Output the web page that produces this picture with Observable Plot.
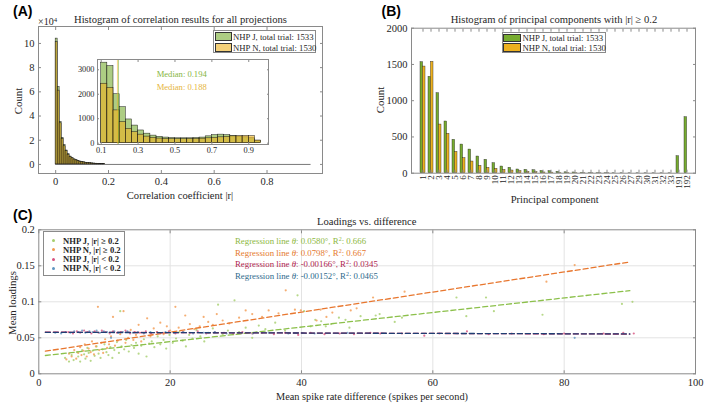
<!DOCTYPE html>
<html>
<head>
<meta charset="utf-8">
<script src="https://cdn.jsdelivr.net/npm/d3@7"></script>
<script src="https://cdn.jsdelivr.net/npm/@observablehq/plot@0.6"></script>
<style>
html,body{margin:0;padding:0;background:#fff;}
#root{position:relative;width:708px;height:406px;overflow:hidden;font-family:"Liberation Serif","Times New Roman",serif;color:#262626;}
#root svg{position:absolute;overflow:visible;}
#root svg text{font-family:"Liberation Serif","Times New Roman",serif !important;}
.t{position:absolute;white-space:nowrap;line-height:1;}
.lg{position:absolute;background:#fff;border:1px solid #8a8a8a;box-sizing:border-box;}
.sw{position:absolute;box-sizing:border-box;border:1px solid #333;}
.dot{position:absolute;width:3px;height:3px;border-radius:50%;}
sup{font-size:0.68em;line-height:0;vertical-align:0.45em;}
</style>
</head>
<body>
<div id="root"></div>
<script>
// ================= DATA =================
// Panel A: fine histogram of |r| (counts in units of 10^4), bins from 0
const mainBinWidth = 0.0075;
const mainJ = [10.4, 6.4, 3.5, 2.2, 1.6, 1.15, 0.85, 0.65, 0.52, 0.42, 0.35, 0.29, 0.24, 0.2, 0.17, 0.14, 0.12, 0.1, 0.085, 0.07, 0.06, 0.05, 0.04, 0.035, 0.03];
const mainN = [10.1, 6.1, 3.4, 2.1, 1.5, 1.1, 0.8, 0.62, 0.5, 0.4, 0.33, 0.27, 0.22, 0.19, 0.16, 0.13, 0.11, 0.09, 0.075, 0.065, 0.055, 0.045, 0.037, 0.03, 0.025];
// Panel A inset: |r| >= 0.1 histogram (raw counts)
const insetStart = 0.1;
const insetBinWidth = 1 / 30;
const insetJ = [3290, 3150, 2000, 1470, 970, 720, 520, 390, 310, 260, 230, 210, 200, 200, 200, 210, 230, 280, 330, 350, 330, 300, 270, 240, 200, 90];
const insetN = [2430, 2260, 1340, 860, 590, 450, 350, 270, 220, 190, 175, 170, 165, 165, 170, 175, 185, 200, 220, 240, 260, 280, 290, 300, 290, 110];
const medianValues = [0.194, 0.188];
const monkeys = ["NHP J", "NHP N"];
const trials = [1533, 1530];

// Panel B: principal components with |r| >= 0.2
const pcLabels = ["1","2","3","4","5","6","7","8","9","10","11","12","13","14","15","16","17","18","19","20","21","22","23","24","25","26","27","29","30","31","32","33","191","192"];
const pcJ = [1531, 1329, 1103, 713, 460, 395, 326, 230, 184, 138, 92, 74, 51, 46, 41, 30, 28, 18, 12, 10, 6, 4, 3, 3, 2, 2, 1, 1, 1, 1, 1, 1, 234, 772];
const pcN = [1471, 1536, 671, 543, 294, 207, 161, 101, 74, 60, 46, 37, 28, 18, 14, 10, 8, 5, 4, 3, 2, 1, 1, 1, 0, 0, 0, 0, 0, 0, 0, 0, 0, 0];

// Panel C: mean loadings vs mean spike-rate difference
const ptsJhigh = [[4.0,.022],[4.6,.017],[5.0,.026],[5.3,.019],[5.8,.030],[6.0,.024],[6.3,.017],[6.6,.033],[6.9,.027],[7.1,.021],[7.4,.036],[7.6,.029],[7.9,.018],[8.2,.032],[8.5,.025],[8.8,.038],[9.1,.028],[9.4,.022],[9.7,.034],[10.0,.041],[10.3,.030],[10.6,.026],[10.9,.037],[11.2,.022],[11.5,.033],[11.9,.044],[12.2,.029],[12.4,.087],[12.6,.038],[13.0,.034],[13.3,.047],[13.7,.031],[14.1,.040],[14.5,.036],[14.8,.043],[15.2,.028],[15.6,.039],[16.0,.048],[16.4,.024],[16.8,.042],[17.2,.045],[17.6,.037],[18.1,.052],[18.5,.041],[19.0,.047],[19.4,.035],[19.9,.054],[20.4,.043],[20.9,.049],[21.4,.058],[21.9,.046],[22.4,.038],[22.9,.054],[23.4,.049],[24.0,.061],[24.6,.052],[25.2,.045],[25.8,.057],[26.5,.063],[27.3,.096],[28.0,.055],[28.8,.060],[29.8,.102],[30.5,.058],[31.5,.064],[32.5,.050],[33.5,.067],[34.5,.062],[36.0,.071],[37.5,.060],[39.4,.109],[40.4,.087],[41.4,.066],[42.1,.075],[43.0,.073],[43.7,.066],[44.5,.069],[45.7,.078],[46.7,.075],[47.3,.064],[49.0,.080],[51.3,.081],[51.9,.083],[54.2,.072],[55.3,.078],[63.6,.106],[65.1,.080],[68.1,.106],[69.3,.087],[76.7,.082],[88.8,.097],[90.4,.100]];
const ptsNhigh = [[4.2,.020],[4.6,.028],[5.0,.024],[5.4,.033],[5.7,.021],[6.0,.029],[6.3,.037],[6.5,.026],[6.8,.032],[7.0,.041],[7.3,.024],[7.6,.035],[7.9,.030],[8.1,.045],[8.4,.027],[8.7,.038],[9.0,.093],[9.2,.033],[9.5,.043],[9.8,.029],[10.1,.048],[10.4,.036],[10.7,.041],[11.0,.052],[11.3,.079],[11.6,.039],[12.0,.046],[12.4,.055],[12.9,.087],[13.2,.043],[13.6,.050],[14.0,.061],[14.4,.047],[14.8,.054],[15.2,.068],[15.6,.045],[16.0,.057],[16.5,.077],[17.0,.052],[17.5,.063],[18.0,.058],[18.5,.071],[19.0,.055],[19.5,.066],[20.0,.060],[20.8,.093],[21.3,.064],[22.0,.058],[22.3,.081],[23.0,.069],[23.7,.062],[24.5,.066],[25.1,.079],[25.8,.072],[26.5,.068],[27.1,.083],[28.0,.074],[29.0,.070],[30.5,.078],[31.5,.088],[32.5,.083],[34.0,.079],[35.0,.088],[36.5,.084],[37.6,.116],[39.0,.089],[39.9,.088],[42.3,.074],[42.9,.089],[43.8,.079],[44.7,.085],[47.5,.088],[48.4,.091],[50.9,.106],[55.7,.114],[77.3,.128],[81.6,.151]];
const ptsJlow = [[4.5,.058],[5.2,.056],[5.8,.059],[6.3,.057],[6.9,.060],[7.4,.058],[8.0,.056],[8.5,.059],[9.1,.057],[9.6,.060],[10.2,.058],[10.8,.056],[11.3,.059],[11.9,.057],[12.5,.058],[13.2,.060],[13.9,.056],[14.6,.058],[15.4,.057],[16.3,.059],[17.1,.056],[18.0,.058],[18.9,.057],[19.8,.059],[20.8,.056],[21.9,.058],[23.0,.057],[24.2,.059],[25.5,.056],[26.8,.058],[28.2,.057],[29.6,.055],[31.0,.058],[32.5,.056],[34.0,.057],[35.8,.055],[37.5,.057],[39.5,.054],[41.4,.057],[43.5,.055],[45.8,.056],[48.0,.055],[50.5,.057],[52.0,.056],[55.3,.056],[58.7,.053],[61.0,.056],[65.2,.059],[68.5,.055],[72.0,.056],[76.9,.055],[80.0,.056],[86.0,.056],[89.0,.057],[90.6,.056]];
const ptsNlow = [[2.5,.057],[3.4,.056],[4.1,.058],[4.8,.057],[5.4,.059],[6.0,.058],[6.6,.060],[7.1,.057],[7.7,.059],[8.2,.058],[8.8,.060],[9.3,.057],[9.9,.059],[10.4,.058],[11.0,.050],[11.5,.059],[12.1,.057],[12.8,.058],[13.5,.059],[14.3,.057],[15.1,.058],[16.0,.056],[17.0,.058],[18.1,.057],[19.3,.058],[20.6,.057],[22.0,.058],[23.5,.056],[25.1,.057],[26.8,.058],[28.6,.056],[30.5,.057],[32.6,.056],[35.0,.057],[38.0,.056],[42.0,.056],[47.0,.057],[81.6,.050]];
const groupLabels = ["NHP J, |r| \u2265 0.2", "NHP N, |r| \u2265 0.2", "NHP J, |r| < 0.2", "NHP N, |r| < 0.2"];
const regAngleDeg = [0.0580, 0.0798, -0.00166, -0.00152];
const regAngleText = ["0.0580", "0.0798", "-0.00166", "-0.00152"];
const regR2 = ["0.666", "0.667", "0.0345", "0.0465"];
const regIntercept = [0.0244, 0.0300, 0.0578, 0.0577];
const regXRange = [1, 90];

// ================= STYLE =================
const GREEN = "#77AC30", YELLOW = "#EDB120", AX = "#8a8a8a", TXT = "#262626";
const ptColors = ["#A5CE6C", "#F29A50", "#D8517E", "#5F95C0"];
const lineColors = ["#8CC04B", "#E8772F", "#C0245B", "#1F3F73"];
const textColors = ["#8DB842", "#E57A2E", "#B01E4F", "#2F6A8C"];
const SERIF = '"Liberation Serif","Times New Roman",serif';
const baseStyle = {fontFamily: SERIF, fontSize: "10.5px", color: TXT, background: "transparent", overflow: "visible"};

const root = document.getElementById("root");
function put(svg, left, top) { svg.style.left = left + "px"; svg.style.top = top + "px"; root.appendChild(svg); }
function text(html, x, y, o = {}) {
  const d = document.createElement("div");
  d.className = "t";
  d.innerHTML = html;
  d.style.left = x + "px"; d.style.top = y + "px";
  d.style.fontSize = (o.size || 10.6) + "px";
  if (o.color) d.style.color = o.color;
  if (o.weight) d.style.fontWeight = o.weight;
  if (o.family) d.style.fontFamily = o.family;
  const tx = o.anchor === "start" ? "0" : o.anchor === "end" ? "-100%" : "-50%";
  d.style.transform = `translate(${tx},-50%)` + (o.rotate ? ` rotate(${o.rotate}deg)` : "");
  root.appendChild(d);
  return d;
}
function box(cls, l, t, w, h, bg) {
  const d = document.createElement("div");
  d.className = cls;
  Object.assign(d.style, {left: l + "px", top: t + "px", width: w + "px", height: h + "px"});
  if (bg) d.style.background = bg;
  root.appendChild(d);
  return d;
}
const empty = () => "";
function frameAxes(xt, yt, xf, yf, o = {}) {
  const s = o.tick ?? 3;
  return [
    Plot.frame({stroke: AX}),
    Plot.axisX({ticks: xt, tickFormat: xf, tickSize: -s, tickPadding: o.xpad ?? 7, stroke: AX, fill: TXT, label: null, ...(o.xo || {})}),
    Plot.axisX({anchor: "top", ticks: xt, tickFormat: empty, tickSize: -s, stroke: AX, label: null}),
    Plot.axisY({ticks: yt, tickFormat: yf, tickSize: -s, tickPadding: o.ypad ?? 7, stroke: AX, fill: TXT, label: null, ...(o.yo || {})}),
    Plot.axisY({anchor: "right", ticks: yt, tickFormat: empty, tickSize: -s, stroke: AX, label: null})
  ];
}

// ================= PANEL A =================
const mainRows = mainJ.map((v, i) => ({x1: i * mainBinWidth, x2: (i + 1) * mainBinWidth, j: v, n: mainN[i]}));
const insetRows = insetJ.map((v, i) => ({x1: insetStart + i * insetBinWidth, x2: insetStart + (i + 1) * insetBinWidth, j: v, n: insetN[i]}));
const tailEnd = insetStart + insetJ.length * insetBinWidth;

const plotA = Plot.plot({
  width: 340, height: 205, marginLeft: 38, marginRight: 18, marginTop: 26, marginBottom: 32,
  x: {domain: [-0.065, 1.01]}, y: {domain: [-0.75, 11.4]},
  style: baseStyle,
  marks: [
    Plot.rect(mainRows, {x1: "x1", x2: "x2", y1: 0, y2: "j", fill: GREEN, fillOpacity: 0.6, stroke: "#1a1a1a", strokeWidth: 0.5}),
    Plot.rect(mainRows, {x1: "x1", x2: "x2", y1: 0, y2: "n", fill: YELLOW, fillOpacity: 0.6, stroke: "#1a1a1a", strokeWidth: 0.5}),
    Plot.ruleY([0], {x1: 0, x2: tailEnd, stroke: "#555", strokeWidth: 0.8}),
    ...frameAxes([0, 0.2, 0.4, 0.6, 0.8], [0, 2, 4, 6, 8, 10], d => String(d), d => String(d))
  ]
});
put(plotA, 0, 0);

const plotInset = Plot.plot({
  width: 200, height: 112, marginLeft: 22, marginRight: 7, marginTop: 9, marginBottom: 18,
  x: {domain: [0.08, 1.007]}, y: {domain: [-53, 3420]},
  style: {...baseStyle, fontSize: "8.3px"},
  marks: [
    Plot.frame({fill: "white", stroke: "none"}),
    Plot.rect(insetRows, {x1: "x1", x2: "x2", y1: 0, y2: "j", fill: GREEN, fillOpacity: 0.6, stroke: "#1a1a1a", strokeWidth: 0.5}),
    Plot.rect(insetRows, {x1: "x1", x2: "x2", y1: 0, y2: "n", fill: YELLOW, fillOpacity: 0.6, stroke: "#1a1a1a", strokeWidth: 0.5}),
    Plot.ruleX(medianValues, {stroke: (d, i) => [GREEN, YELLOW][i], strokeOpacity: 0.55, strokeWidth: 1}),
    ...frameAxes([0.1, 0.3, 0.5, 0.7, 0.9], [0, 1000, 2000, 3000], d => String(d), d => String(d), {tick: 2, xpad: 5, ypad: 5})
  ]
});
put(plotInset, 75, 50);

// ================= PANEL B =================
const pcRows = pcLabels.map((l, i) => ({pc: l, j: pcJ[i], n: pcN[i]}));
const plotB = Plot.plot({
  width: 358, height: 205, marginLeft: 61, marginRight: 13, marginTop: 27.7, marginBottom: 32.3,
  x: {type: "band", domain: pcLabels, paddingInner: 0.41, paddingOuter: 0.69, align: 0.6},
  y: {domain: [0, 2000]},
  style: baseStyle,
  marks: [
    Plot.barY(pcRows, {x: "pc", y: "j", fill: GREEN, stroke: "#222", strokeWidth: 0.4, insetRight: 2.4}),
    Plot.barY(pcRows, {x: "pc", y: "n", fill: YELLOW, stroke: "#222", strokeWidth: 0.4, insetLeft: 2.4}),
    ...frameAxes(pcLabels, [0, 500, 1000, 1500, 2000], d => d, d => String(d),
      {xo: {tickRotate: -90, fontSize: 9, tickPadding: 5}})
  ]
});
put(plotB, 350, 0);

// ================= PANEL C =================
const groups = [ptsJhigh, ptsNhigh, ptsJlow, ptsNlow];
const ptRows = groups.flatMap((g, k) => g.map(([x, y]) => ({x, y, k})));
const regRows = regAngleDeg.flatMap((a, k) => regXRange.map(x => ({k, x, y: regIntercept[k] + Math.tan(a * Math.PI / 180) * x})));
const plotC = Plot.plot({
  width: 708, height: 206, marginLeft: 38.3, marginRight: 13, marginTop: 29.3, marginBottom: 32.7,
  x: {domain: [0, 100]}, y: {domain: [0, 0.2]},
  style: baseStyle,
  marks: [
    Plot.gridX([20, 40, 60, 80], {stroke: "#e3e3e3", strokeOpacity: 1}),
    Plot.gridY([0.05, 0.1, 0.15], {stroke: "#e3e3e3", strokeOpacity: 1}),
    Plot.dot(ptRows, {x: "x", y: "y", r: 1.1, fill: d => ptColors[d.k], fillOpacity: 0.8, stroke: "none"}),
    Plot.line(regRows, {x: "x", y: "y", z: "k", stroke: d => lineColors[d.k], strokeWidth: 1.3, strokeDasharray: "5,3"}),
    ...frameAxes([0, 20, 40, 60, 80, 100], [0, 0.05, 0.1, 0.15, 0.2], d => String(d), d => String(d), {xpad: 8})
  ]
});
put(plotC, 0, 200);

// ================= TEXT / LEGENDS =================
const SANS = '"Liberation Sans",Arial,sans-serif';
text("(A)", 13, 11, {anchor: "start", size: 14, weight: "bold", family: SANS, color: "#000"});
text("(B)", 381.5, 11, {anchor: "start", size: 14, weight: "bold", family: SANS, color: "#000"});
text("(C)", 13, 215, {anchor: "start", size: 14, weight: "bold", family: SANS, color: "#000"});

text("Histogram of correlation results for all projections", 180.5, 20, {size: 10.6});
text("\u00d710<sup>4</sup>", 38, 22, {anchor: "start", size: 10});
text("Correlation coefficient |r|", 180, 195.5, {size: 10.6});
text("Count", 18, 101, {size: 10.8, rotate: -90});
text("Median: " + medianValues[0], 181.7, 74, {size: 8.6, color: "#86B542"});
text("Median: " + medianValues[1], 181.7, 86.7, {size: 8.6, color: "#E6B53C"});

text("Histogram of principal components with |r| \u2265 0.2", 554, 20, {size: 10.6});
text("Principal component", 554.7, 200, {size: 10.6});
text("Count", 380, 100, {size: 10.8, rotate: -90});

text("Loadings vs. difference", 366.7, 221.7, {size: 10.6});
text("Mean spike rate difference (spikes per second)", 372, 396.5, {size: 10.3});
text("Mean loadings", 12, 303, {size: 10.8, rotate: -90});

// legend A
box("lg", 213, 30, 103, 23);
box("sw", 215, 32.3, 17, 9, "rgba(119,172,48,0.6)");
box("sw", 215, 43.3, 17, 8.5, "rgba(237,177,32,0.6)");
text(monkeys[0] + ", total trial: " + trials[0], 233, 37, {anchor: "start", size: 8.7});
text(monkeys[1] + ", total trial: " + trials[1], 233, 47.5, {anchor: "start", size: 8.7});

// legend B
box("lg", 501.7, 32.3, 104.5, 21.2);
box("sw", 503, 33.8, 18, 8, GREEN);
box("sw", 503, 43.3, 18, 8.5, YELLOW);
text(monkeys[0] + ", total trial: " + trials[0], 522.5, 38, {anchor: "start", size: 8.7});
text(monkeys[1] + ", total trial: " + trials[1], 522.5, 47.8, {anchor: "start", size: 8.7});

// legend C
box("lg", 42.7, 230.7, 82.5, 45.5);
const rowsY = [240.7, 249.8, 259, 268.2];
groupLabels.forEach((g, k) => {
  box("dot", 51.5, rowsY[k] - 1.5, 3, 3, ptColors[k]);
  text(g, 63, rowsY[k], {anchor: "start", size: 8.6, weight: "bold"});
});

// regression texts
const regY = [240.7, 252.7, 264.3, 276];
regAngleDeg.forEach((a, k) => {
  text(`Regression line <i>\u03b8</i>: ${regAngleText[k]}\u00b0, R<sup>2</sup>: ${regR2[k]}`, 235, regY[k], {anchor: "start", size: 8.8, color: textColors[k]});
});
</script>
</body>
</html>
